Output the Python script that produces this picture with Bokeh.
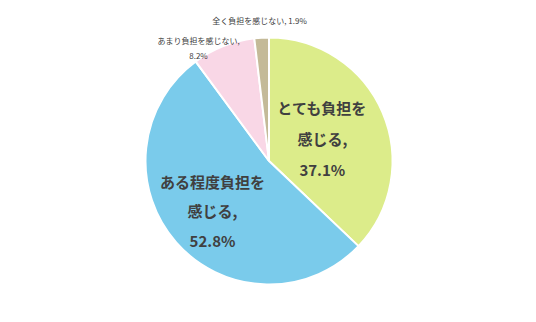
import math
from bokeh.plotting import figure
from bokeh.models import Range1d, ColumnDataSource
from bokeh.core.properties import value
from bokeh.embed import file_html
from bokeh.resources import INLINE

categories = ["とても負担を感じる", "ある程度負担を感じる", "あまり負担を感じない", "全く負担を感じない"]
shares = [37.1, 52.8, 8.2, 1.9]
colors = ["#DCEC8A", "#7ACBEB", "#F9D7E6", "#C4BA98"]

W, H = 536, 322
cx, cy, R = 268.5, 322 - 160.5, 123.5

p = figure(width=W, height=H, output_backend="svg", toolbar_location=None,
           x_range=Range1d(0, W), y_range=Range1d(0, H), min_border=0)
p.axis.visible = False
p.grid.visible = False
p.outline_line_color = None
p.background_fill_color = "white"

total = sum(shares)
starts, ends, mids = [], [], []
acc = 0.0
for s in shares:
    a0 = math.pi / 2 - 2 * math.pi * acc / total
    acc += s
    a1 = math.pi / 2 - 2 * math.pi * acc / total
    starts.append(a1)
    ends.append(a0)
    mids.append((a0 + a1) / 2)

src = ColumnDataSource(dict(start=starts, end=ends, color=colors, cat=categories))
p.wedge(x=cx, y=cy, radius=R, start_angle="start", end_angle="end",
        fill_color="color", line_color="white", line_width=2, source=src)

font = value("Noto Sans CJK JP")
big = dict(text_font=font, text_font_size="15px", text_font_style="bold",
           text_color="#404040", text_align="center", text_baseline="middle")
small = dict(text_font=font, text_font_size="8px", text_color="#404040",
             text_align="center", text_baseline="middle")

# big labels inside slices
def place(i, rf, lines, gap, style):
    mx = cx + rf * R * math.cos(mids[i])
    my = cy + rf * R * math.sin(mids[i])
    n = len(lines)
    for k, t in enumerate(lines):
        yy = my + (n - 1) / 2 * gap - k * gap
        p.text(x=[mx], y=[yy], text=[t], **style)

place(0, 0.47, ["とても負担を", "感じる,", f"{shares[0]}%"], 31, big)
place(1, 0.61, ["ある程度負担を", "感じる,", f"{shares[1]}%"], 29.5, big)

# small outside labels
p.text(x=[198], y=[H - 40], text=["あまり負担を感じない,"], **small)
p.text(x=[198], y=[H - 55], text=[f"{shares[2]}%"], **small)
p.text(x=[259], y=[H - 20], text=[f"全く負担を感じない, {shares[3]}%"], **small)

open("out.html", "w").write(file_html(p, INLINE))
